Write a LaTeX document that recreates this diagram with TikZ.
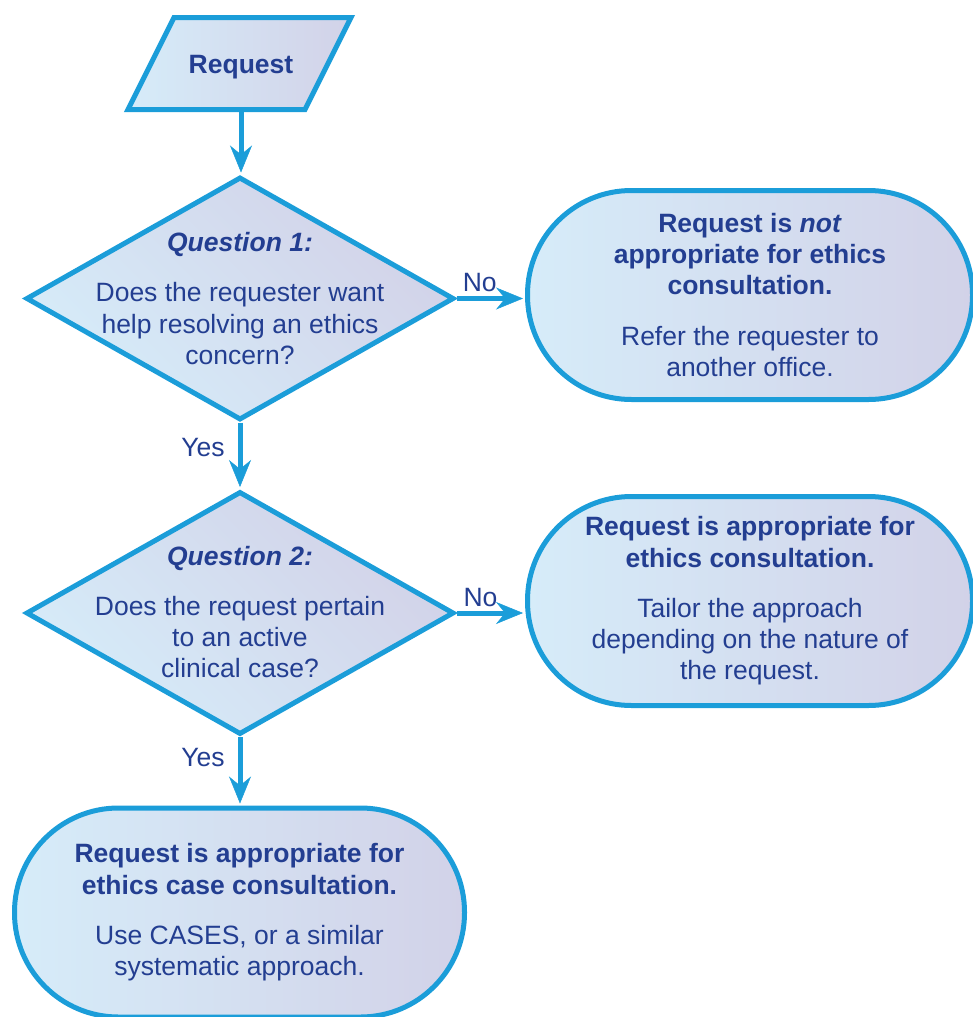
\documentclass[tikz,border=0pt]{standalone}
\usepackage{fontspec}
\setmainfont{Liberation Sans}
\usetikzlibrary{shapes.geometric,arrows.meta}
\definecolor{edge}{RGB}{27,157,217}
\definecolor{ink}{RGB}{35,62,145}
\definecolor{fillA}{RGB}{214,236,249}
\definecolor{fillB}{RGB}{210,210,232}
\begin{document}
\begin{tikzpicture}[x=1pt,y=-1pt,
  every node/.style={font=\fontsize{26.5}{31.3}\selectfont, text=ink},
  shapebox/.style={draw=edge, line width=5pt, inner sep=0pt, align=center},
  hgrad/.style={left color=fillA, right color=fillB},
  dgrad/.style={top color=fillB, bottom color=fillA, shading angle=-45},
  terminal/.style={shapebox, hgrad, rectangle, rounded corners=104pt, minimum width=445pt, minimum height=209pt},
  decision/.style={shapebox, dgrad, diamond, minimum width=428pt, minimum height=243pt},
  qtext/.style={align=center, inner sep=0pt},
  flow/.style={draw=edge, line width=5pt, shorten >=2pt,
    -{Stealth[length=27pt,width=22pt,inset=9pt,line width=0.5pt]}},
  nolbl/.style={above, inner sep=4pt},
  yeslbl/.style={left, inner sep=13pt},
]
\useasboundingbox (0,0) rectangle (973,1017);
\clip (0,0) rectangle (973,1017);

% input (parallelogram)
\path[draw=edge, line width=5pt, hgrad] (128,109.5) -- (174,17.5) -- (351,17.5) -- (305,109.5) -- cycle;
\node[text height=19pt, text depth=0pt, inner sep=0pt] (req) at (241,64) {\textbf{Request}};
\coordinate (reqout) at (241,109.5);

% decisions
\node[decision] (q1) at (240,298.5) {};
\node[qtext] (q1t) at (q1) {\textbf{\textit{Question 1:}}\\[19pt]Does the requester want\\help resolving an ethics\\concern?};

\node[decision] (q2) at (240,613) {};
\node[qtext, yshift=1pt] (q2t) at (q2) {\textbf{\textit{Question 2:}}\\[19pt]Does the request pertain\\to an active\\clinical case?};

% terminals
\node[terminal] (t1) at (750,295) {\textbf{Request is \textit{not}}\\\textbf{appropriate for ethics}\\\textbf{consultation.}\\[19pt]Refer the requester to\\another office.};
\node[terminal] (t2) at (750,601) {\textbf{Request is appropriate for}\\\textbf{ethics consultation.}\\[19pt]Tailor the approach\\depending on the nature of\\the request.};
\node[terminal, minimum width=450pt] (t3) at (239.5,912.5) {\textbf{Request is appropriate for}\\\textbf{ethics case consultation.}\\[19pt]Use CASES, or a similar\\systematic approach.};

% connectors
\draw[flow] (reqout) -- (reqout |- q1.north);
\draw[flow] (q1.east) -- node[nolbl, pos=0.34] {No} (q1.east -| t1.west);
\draw[flow] (q1.south) -- node[yeslbl, pos=0.37] {Yes} (q2.north);
\draw[flow] (q2.east) -- node[nolbl, pos=0.35] {No} (q2.east -| t2.west);
\draw[flow] (q2.south) -- node[yeslbl, pos=0.30] {Yes} (q2.south |- t3.north);
\end{tikzpicture}
\end{document}
